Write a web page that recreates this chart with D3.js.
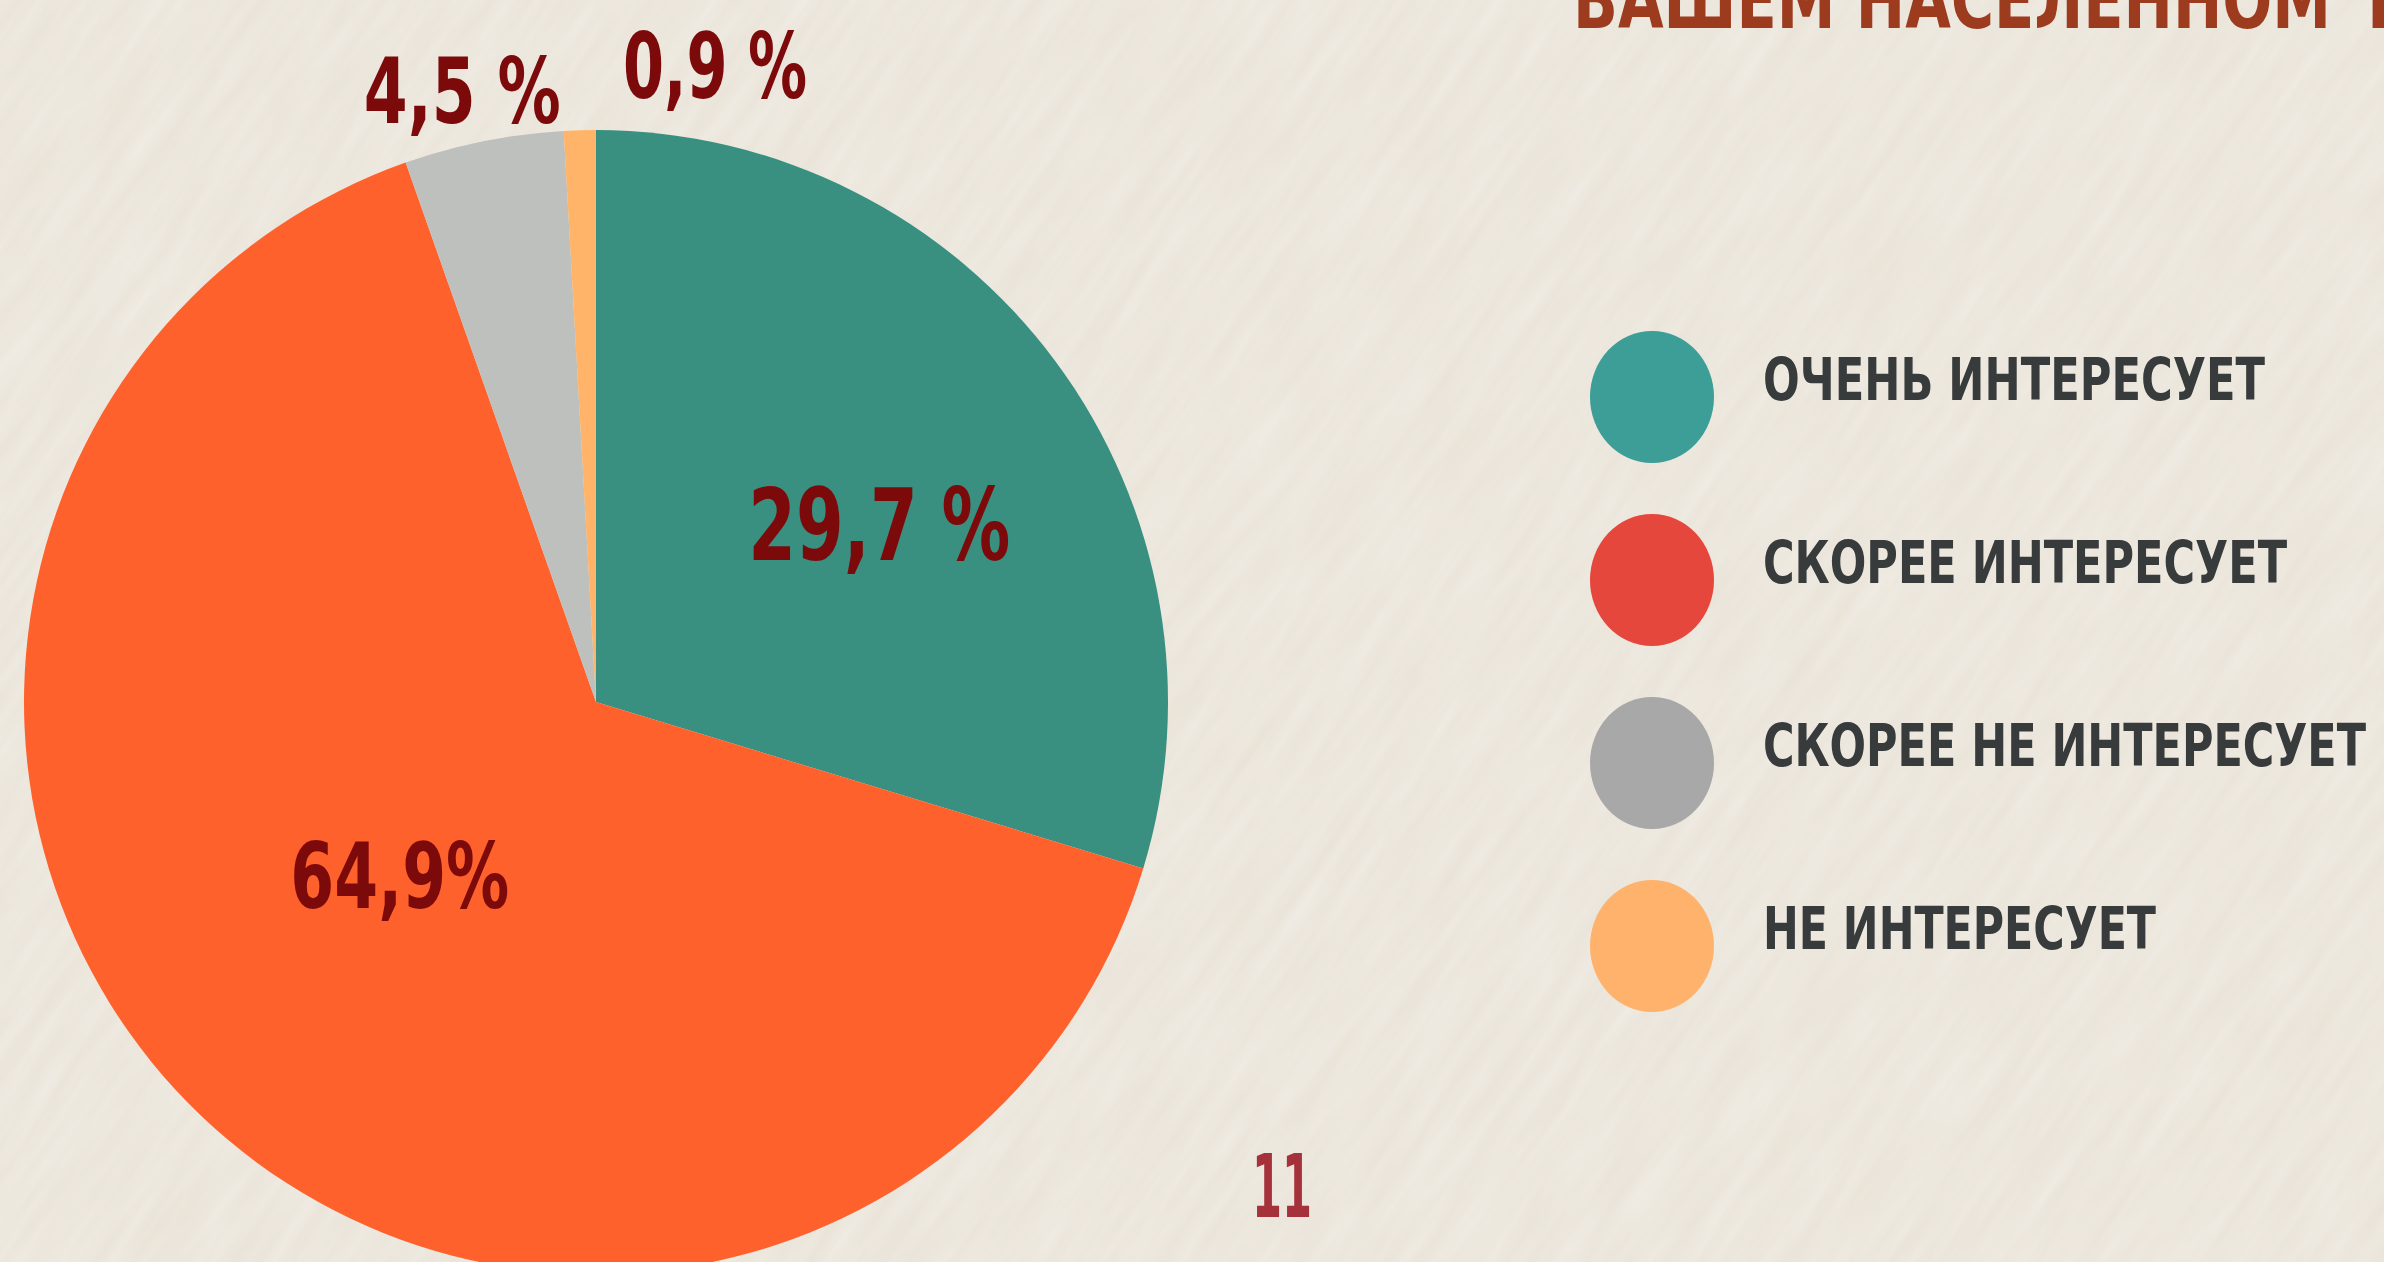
<!DOCTYPE html>
<html>
<head>
<meta charset="utf-8">
<script src="https://cdn.jsdelivr.net/npm/d3@7"></script>
<style>
  html, body { margin: 0; padding: 0; overflow: hidden; background: #ebe6dc; }
  svg { display: block; }
</style>
</head>
<body>
<script>
// chart data
var categories = ["ОЧЕНЬ ИНТЕРЕСУЕТ", "СКОРЕЕ ИНТЕРЕСУЕТ", "СКОРЕЕ НЕ ИНТЕРЕСУЕТ", "НЕ ИНТЕРЕСУЕТ"];
var values = [29.7, 64.9, 4.5, 0.9];
var valueLabels = ["29,7 %", "64,9%", "4,5 %", "0,9 %"];
var sliceColors = ["#398f80", "#ff612d", "#bdc0bc", "#ffb469"];
var legendColors = ["#3d9e98", "#e5473d", "#a8a8a8", "#ffb26b"];
var titleParts = ["ВАШЕМ НАСЕЛЕННОМ", "ПУНКТЕ?"];
var pageNumber = "11";

var width = 2384,
    height = 1262;

var font = "'Liberation Sans Narrow', 'DejaVu Sans Condensed', sans-serif";

var svg = d3.select("body").append("svg")
    .attr("width", width)
    .attr("height", height);

// paper texture: diagonal fibres
var defs = svg.append("defs");
var noise = defs.append("filter").attr("id", "paper")
    .attr("x", 0).attr("y", 0).attr("width", "100%").attr("height", "100%");
noise.append("feTurbulence")
    .attr("type", "fractalNoise")
    .attr("baseFrequency", "0.008 0.07")
    .attr("numOctaves", 3)
    .attr("seed", 7);
noise.append("feColorMatrix")
    .attr("type", "matrix")
    .attr("values", "0 0 0 0 0.98  0 0 0 0 0.96  0 0 0 0 0.92  0 0 0 0.45 -0.05");

svg.append("rect")
    .attr("width", width)
    .attr("height", height)
    .attr("fill", "#e9e3d8");
svg.append("g")
    .attr("transform", "translate(1192,631) rotate(-55)")
  .append("rect")
    .attr("x", -1800).attr("y", -1800)
    .attr("width", 3600).attr("height", 3600)
    .attr("filter", "url(#paper)");

// title (cut by the top edge)
var title = svg.append("text")
    .attr("y", 28)
    .attr("font-family", font)
    .attr("font-weight", "bold")
    .attr("font-size", 80)
    .attr("fill", "#9c3b1e");
title.append("tspan")
    .attr("x", 1573)
    .attr("textLength", 758)
    .attr("lengthAdjust", "spacingAndGlyphs")
    .text(titleParts[0]);
title.append("tspan")
    .attr("x", 2366)
    .text(titleParts[1]);

// pie
var cx = 596, cy = 702, radius = 572;

var pie = d3.pie().sort(null).value(function(d) { return d; });
var arcs = pie(values);

var arc = d3.arc().innerRadius(0).outerRadius(radius);

var g = svg.append("g")
    .attr("transform", "translate(" + cx + "," + cy + ")");

g.selectAll("path.slice")
    .data(arcs)
  .enter().append("path")
    .attr("class", "slice")
    .attr("d", arc)
    .attr("fill", function(d, i) { return sliceColors[i]; });

// value labels
var labelRadius = [334, 262, 624, 637];
var nudge = [[15, 21], [-15, -16], [-11, 0], [137, 0]];
var labelSize = [100, 90, 90, 90];
var labelWidth = [262, 219, 197, 184];

g.selectAll("text.val")
    .data(arcs)
  .enter().append("text")
    .attr("class", "val")
    .each(function(d, i) {
      var c = d3.arc().innerRadius(labelRadius[i]).outerRadius(labelRadius[i]).centroid(d);
      d3.select(this)
        .attr("x", c[0] + nudge[i][0] - labelWidth[i] / 2)
        .attr("y", c[1] + nudge[i][1] + labelSize[i] * 0.36)
        .attr("font-size", labelSize[i])
        .attr("textLength", labelWidth[i])
        .attr("lengthAdjust", "spacingAndGlyphs");
    })
    .attr("font-family", font)
    .attr("font-weight", "bold")
    .attr("fill", "#7d0a0a")
    .text(function(d, i) { return valueLabels[i]; });

// legend
var legendY = d3.scalePoint()
    .domain(categories)
    .range([397, 946]);
var textWidth = [502, 524, 603, 393];

var legend = svg.append("g");
var item = legend.selectAll("g")
    .data(categories)
  .enter().append("g")
    .attr("transform", function(d) { return "translate(1652," + legendY(d) + ")"; });

item.append("ellipse")
    .attr("rx", 62)
    .attr("ry", 66)
    .attr("fill", function(d, i) { return legendColors[i]; });

item.append("text")
    .attr("x", 111)
    .attr("y", 3)
    .attr("font-family", font)
    .attr("font-weight", "bold")
    .attr("font-size", 58)
    .attr("fill", "#383b3c")
    .attr("textLength", function(d, i) { return textWidth[i]; })
    .attr("lengthAdjust", "spacingAndGlyphs")
    .text(function(d) { return d; });

// page number
svg.append("text")
    .attr("x", 1282)
    .attr("y", 1217)
    .attr("text-anchor", "middle")
    .attr("font-family", font)
    .attr("font-weight", "bold")
    .attr("font-size", 88)
    .attr("fill", "#a5313a")
    .attr("textLength", 60)
    .attr("lengthAdjust", "spacingAndGlyphs")
    .text(pageNumber);
</script>
</body>
</html>
